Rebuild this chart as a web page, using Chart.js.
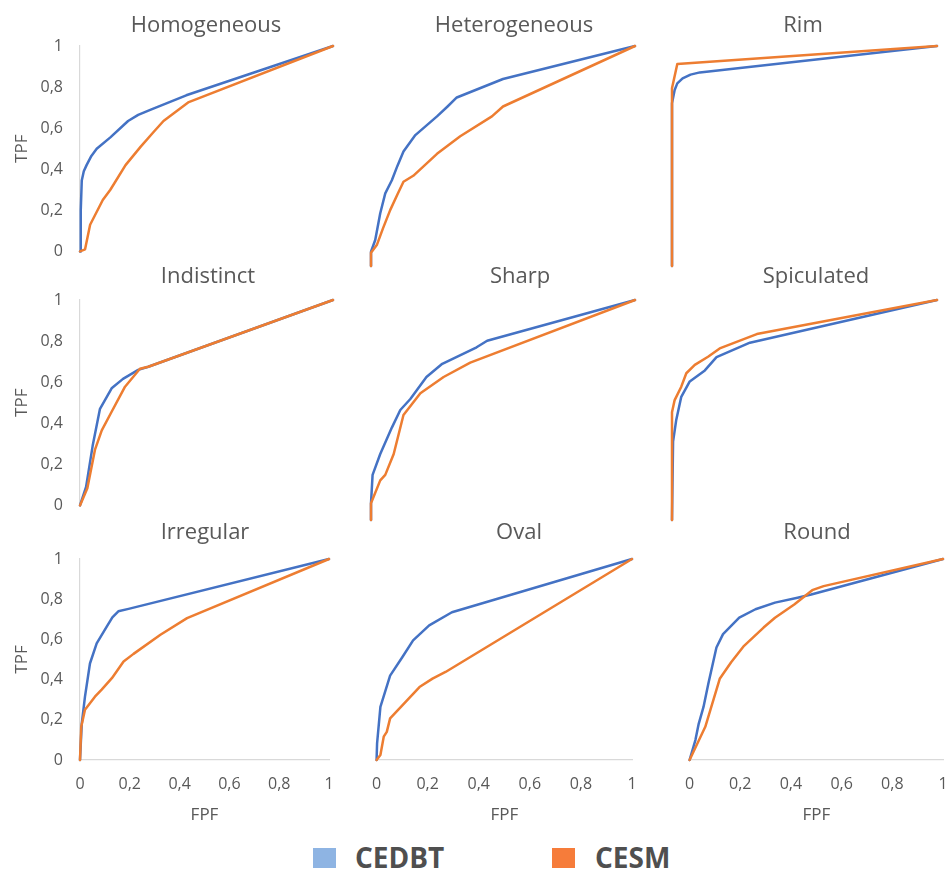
<!DOCTYPE html>
<html>
<head>
<meta charset="utf-8">
<script src="https://cdn.jsdelivr.net/npm/chart.js@4.4.1/dist/chart.umd.min.js"></script>
<style>
  html, body { margin: 0; padding: 0; background: #ffffff; }
  body { width: 948px; height: 869px; position: relative; overflow: hidden; font-family: 'Open Sans', sans-serif; }
  .panel { position: absolute; }
  .legend-box { position: absolute; width: 23px; height: 20px; }
  .legend-text { position: absolute; font-family: 'Open Sans', sans-serif; font-weight: bold; font-size: 28px; color: #4f4f4f; line-height: 30px; }
</style>
</head>
<body>
<div class="legend-box" style="left:313px; top:848px; background:#8EB4E3;"></div>
<div class="legend-text" id="lg0" style="left:355px; top:842px;"></div>
<div class="legend-box" style="left:552px; top:848px; background:#F67C3A;"></div>
<div class="legend-text" id="lg1" style="left:595px; top:842px;"></div>
<script>
// ---------- DATA ----------
const seriesNames = ["CEDBT", "CESM"];
const panelTitles = ["Homogeneous", "Heterogeneous", "Rim", "Indistinct", "Sharp", "Spiculated", "Irregular", "Oval", "Round"];
const xTickLabels = ["0", "0,2", "0,4", "0,6", "0,8", "1"];
const yTickLabels = ["0", "0,2", "0,4", "0,6", "0,8", "1"];
const xAxisTitle = "FPF";
const yAxisTitle = "TPF";

const homogeneousCedbtFpf = [0, 0.003, 0.007, 0.015, 0.026, 0.045, 0.066, 0.12, 0.19, 0.23, 0.28, 0.42, 1];
const homogeneousCedbtTpf = [0, 0.2, 0.345, 0.39, 0.42, 0.465, 0.5, 0.555, 0.635, 0.665, 0.69, 0.76, 1];
const homogeneousCesmFpf = [0, 0.02, 0.04, 0.09, 0.12, 0.18, 0.24, 0.29, 0.33, 0.43, 1];
const homogeneousCesmTpf = [0, 0.01, 0.13, 0.25, 0.30, 0.42, 0.51, 0.58, 0.635, 0.727, 1];

const heterogeneousCedbtFpf = [0, 0, 0.016, 0.035, 0.054, 0.079, 0.10, 0.123, 0.168, 0.25, 0.29, 0.325, 0.50, 1];
const heterogeneousCedbtTpf = [0, 0.065, 0.118, 0.24, 0.33, 0.39, 0.455, 0.52, 0.595, 0.68, 0.725, 0.766, 0.85, 1];
const heterogeneousCesmFpf = [0, 0, 0.022, 0.045, 0.073, 0.10, 0.123, 0.16, 0.25, 0.338, 0.458, 0.50, 1];
const heterogeneousCesmTpf = [0, 0.06, 0.095, 0.17, 0.255, 0.325, 0.383, 0.41, 0.51, 0.59, 0.68, 0.725, 1];

const rimCedbtFpf = [0, 0, 0.01, 0.02, 0.04, 0.07, 0.105, 1];
const rimCedbtTpf = [0, 0.74, 0.80, 0.83, 0.853, 0.87, 0.88, 1];
const rimCesmFpf = [0, 0, 0.02, 1];
const rimCesmTpf = [0, 0.808, 0.918, 1];

const indistinctCedbtFpf = [0, 0.024, 0.05, 0.079, 0.125, 0.17, 0.23, 0.27, 1];
const indistinctCedbtTpf = [0, 0.09, 0.29, 0.47, 0.57, 0.616, 0.66, 0.675, 1];
const indistinctCesmFpf = [0, 0.029, 0.059, 0.086, 0.125, 0.178, 0.237, 0.27, 1];
const indistinctCesmTpf = [0, 0.083, 0.27, 0.365, 0.456, 0.578, 0.665, 0.675, 1];

const sharpCedbtFpf = [0, 0, 0.006, 0.035, 0.079, 0.111, 0.149, 0.21, 0.27, 0.40, 0.44, 1];
const sharpCedbtTpf = [0, 0.076, 0.205, 0.30, 0.42, 0.50, 0.55, 0.65, 0.71, 0.785, 0.815, 1];
const sharpCesmFpf = [0, 0, 0.035, 0.054, 0.086, 0.123, 0.187, 0.275, 0.376, 1];
const sharpCesmTpf = [0, 0.076, 0.18, 0.205, 0.30, 0.477, 0.576, 0.65, 0.715, 1];

const spiculatedCedbtFpf = [0, 0.004, 0.016, 0.035, 0.067, 0.124, 0.168, 0.294, 1];
const spiculatedCedbtTpf = [0, 0.356, 0.455, 0.56, 0.63, 0.68, 0.74, 0.806, 1];
const spiculatedCesmFpf = [0, 0, 0.01, 0.035, 0.054, 0.086, 0.136, 0.18, 0.32, 1];
const spiculatedCesmTpf = [0, 0.49, 0.545, 0.606, 0.667, 0.705, 0.742, 0.78, 0.845, 1];

const irregularCedbtFpf = [0, 0.007, 0.02, 0.04, 0.067, 0.108, 0.13, 0.154, 0.195, 1];
const irregularCedbtTpf = [0, 0.18, 0.315, 0.48, 0.58, 0.665, 0.71, 0.74, 0.752, 1];
const irregularCesmFpf = [0, 0.005, 0.02, 0.06, 0.087, 0.128, 0.175, 0.215, 0.323, 0.43, 1];
const irregularCesmTpf = [0, 0.165, 0.25, 0.315, 0.35, 0.407, 0.49, 0.528, 0.623, 0.706, 1];

const ovalCedbtFpf = [0, 0.002, 0.015, 0.053, 0.10, 0.143, 0.206, 0.295, 1];
const ovalCedbtTpf = [0, 0.083, 0.264, 0.42, 0.51, 0.595, 0.67, 0.735, 1];
const ovalCesmFpf = [0, 0.015, 0.028, 0.04, 0.053, 0.168, 0.219, 0.27, 1];
const ovalCesmTpf = [0, 0.025, 0.116, 0.14, 0.207, 0.363, 0.405, 0.438, 1];

const roundCedbtFpf = [0, 0.023, 0.036, 0.055, 0.074, 0.106, 0.132, 0.196, 0.26, 0.337, 0.426, 0.48, 1];
const roundCedbtTpf = [0, 0.099, 0.18, 0.264, 0.379, 0.56, 0.626, 0.708, 0.75, 0.783, 0.807, 0.823, 1];
const roundCesmFpf = [0, 0.062, 0.119, 0.164, 0.215, 0.292, 0.337, 0.413, 0.484, 0.529, 1];
const roundCesmTpf = [0, 0.165, 0.404, 0.486, 0.568, 0.659, 0.708, 0.774, 0.845, 0.865, 1];

// ---------- LAYOUT (styling only) ----------
const BLUE = "#4472C4";
const ORANGE = "#ED7D31";
const TEXT = "#595959";
const AXIS = "#D9D9D9";

const panels = [
  { cedbt: [homogeneousCedbtFpf, homogeneousCedbtTpf], cesm: [homogeneousCesmFpf, homogeneousCesmTpf] },
  { cedbt: [heterogeneousCedbtFpf, heterogeneousCedbtTpf], cesm: [heterogeneousCesmFpf, heterogeneousCesmTpf] },
  { cedbt: [rimCedbtFpf, rimCedbtTpf], cesm: [rimCesmFpf, rimCesmTpf] },
  { cedbt: [indistinctCedbtFpf, indistinctCedbtTpf], cesm: [indistinctCesmFpf, indistinctCesmTpf] },
  { cedbt: [sharpCedbtFpf, sharpCedbtTpf], cesm: [sharpCesmFpf, sharpCesmTpf] },
  { cedbt: [spiculatedCedbtFpf, spiculatedCedbtTpf], cesm: [spiculatedCesmFpf, spiculatedCesmTpf] },
  { cedbt: [irregularCedbtFpf, irregularCedbtTpf], cesm: [irregularCesmFpf, irregularCesmTpf] },
  { cedbt: [ovalCedbtFpf, ovalCedbtTpf], cesm: [ovalCesmFpf, ovalCesmTpf] },
  { cedbt: [roundCedbtFpf, roundCedbtTpf], cesm: [roundCesmFpf, roundCesmTpf] }
];

// plot boxes (pixel frame of each panel) and title centres
const boxes = [
  { x0: 80,  x1: 333, yT: 46,  yB: 266, tcx: 206, tcy: 26 },
  { x0: 371, x1: 635, yT: 46,  yB: 266, tcx: 514, tcy: 26 },
  { x0: 672, x1: 937, yT: 46,  yB: 266, tcx: 803, tcy: 26 },
  { x0: 80,  x1: 333, yT: 300, yB: 520, tcx: 208, tcy: 277 },
  { x0: 371, x1: 635, yT: 300, yB: 520, tcx: 520, tcy: 277 },
  { x0: 672, x1: 937, yT: 300, yB: 520, tcx: 816, tcy: 277 },
  { x0: 80,  x1: 329, yT: 559, yB: 760, tcx: 205, tcy: 533 },
  { x0: 369, x1: 632, yT: 559, yB: 760, tcx: 519, tcy: 533 },
  { x0: 682, x1: 943, yT: 559, yB: 760, tcx: 817, tcy: 533 }
];

document.getElementById('lg0').textContent = seriesNames[0];
document.getElementById('lg1').textContent = seriesNames[1];

function toPoints(xs, ys) {
  return xs.map((x, i) => ({ x: x, y: ys[i] }));
}

const PAD = 12, PAD_T = 4, TITLE_LH = 26;

panels.forEach((p, i) => {
  const b = boxes[i];
  const col = i % 3, row = Math.floor(i / 3);
  const showY = col === 0;
  const showX = row === 2;
  let yl = showY ? 68 : 0;
  let yr = 2 * b.tcx - b.x0 - b.x1 + yl;
  if (yr < 0) { yl = yl - yr; yr = 0; }
  const xh = showX ? 65 : 0;
  const L = b.x0 - yl - PAD;
  const R = b.x1 + yr + PAD;
  const T = b.tcy - TITLE_LH / 2 - PAD_T;
  const B = b.yB + xh + PAD;
  const tpb = b.yT - b.tcy - TITLE_LH / 2;

  const div = document.createElement('div');
  div.className = 'panel';
  div.style.left = L + 'px';
  div.style.top = T + 'px';
  div.style.width = (R - L) + 'px';
  div.style.height = (B - T) + 'px';
  const canvas = document.createElement('canvas');
  canvas.width = R - L;
  canvas.height = B - T;
  canvas.style.width = (R - L) + 'px';
  canvas.style.height = (B - T) + 'px';
  div.appendChild(canvas);
  document.body.appendChild(div);

  const tickFont = { family: 'Open Sans', size: 16 };
  const axisTitleFont = { family: 'Open Sans', size: 17, lineHeight: '20px' };

  new Chart(canvas, {
    type: 'scatter',
    data: {
      datasets: [
        { label: seriesNames[1], data: toPoints(p.cesm[0], p.cesm[1]), showLine: true, borderColor: ORANGE, backgroundColor: ORANGE,
          borderWidth: 2.5, pointRadius: 0, pointHoverRadius: 0, tension: 0, fill: false, clip: 6, order: 0,
          borderJoinStyle: 'round', borderCapStyle: 'round' },
        { label: seriesNames[0], data: toPoints(p.cedbt[0], p.cedbt[1]), showLine: true, borderColor: BLUE, backgroundColor: BLUE,
          borderWidth: 2.5, pointRadius: 0, pointHoverRadius: 0, tension: 0, fill: false, clip: 6, order: 1,
          borderJoinStyle: 'round', borderCapStyle: 'round' }
      ]
    },
    options: {
      responsive: false,
      animation: false,
      devicePixelRatio: 1,
      events: [],
      layout: { padding: { left: PAD, right: PAD, top: PAD_T, bottom: PAD } },
      plugins: {
        legend: { display: false },
        tooltip: { enabled: false },
        title: {
          display: true,
          text: panelTitles[i],
          color: TEXT,
          font: { family: 'Open Sans', size: 22, weight: 'normal', lineHeight: TITLE_LH + 'px' },
          padding: { top: 0, bottom: tpb }
        }
      },
      scales: {
        x: {
          type: 'linear', position: 'bottom', min: 0, max: 1,
          ticks: { display: showX, stepSize: 0.2, padding: 15, color: TEXT, font: tickFont, maxRotation: 0, autoSkip: false,
                   callback: (v, idx) => xTickLabels[idx] },
          grid: { display: false, drawTicks: false },
          border: { display: showX, color: AXIS, width: 1.2 },
          title: { display: showX, text: xAxisTitle, color: TEXT, font: axisTitleFont, padding: 0 },
          afterFit: (s) => { s.height = xh; }
        },
        y: {
          type: 'linear', position: 'left', min: 0, max: 1,
          ticks: { display: showY, stepSize: 0.2, padding: 17, color: TEXT, font: tickFont, autoSkip: false,
                   callback: (v, idx) => yTickLabels[idx] },
          grid: { display: false, drawTicks: false },
          border: { display: showY, color: AXIS, width: 1.2 },
          title: { display: showY, text: yAxisTitle, color: TEXT, font: axisTitleFont, padding: 0 },
          afterFit: (s) => { s.width = yl; }
        },
        r: {
          type: 'linear', position: 'right', display: true,
          ticks: { display: false }, grid: { display: false, drawTicks: false }, border: { display: false },
          afterFit: (s) => { s.width = yr; }
        }
      }
    }
  });
});
</script>
</body>
</html>
